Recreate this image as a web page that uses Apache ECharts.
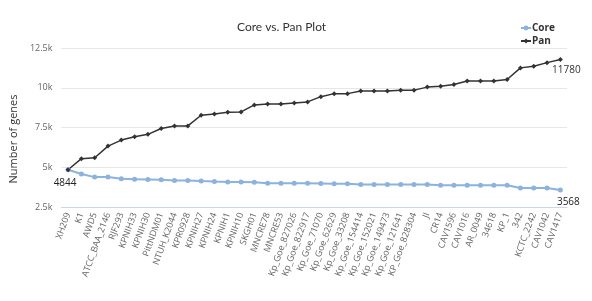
<!DOCTYPE html>
<html>
<head>
<meta charset="utf-8">
<script src="https://cdn.jsdelivr.net/npm/echarts@6/dist/echarts.min.js"></script>
<style>html,body{margin:0;padding:0;background:#fff;}#c{width:592px;height:301px;}</style>
</head>
<body>
<div id="c"></div>
<script>
const categories = ["XH209","K1","AWD5","ATCC_BAA_2146","RJF293","KPNIH33","KPNIH30","PittNDM01","NTUH_K2044","KPR0928","KPNIH27","KPNIH24","KPNIH1","KPNIH10","SKGH01","MNCRE78","MNCRE53","Kp_Goe_827026","Kp_Goe_822917","Kp_Goe_71070","Kp_Goe_62629","Kp_Goe_33208","Kp_Goe_154414","Kp_Goe_152021","Kp_Goe_149473","Kp_Goe_121641","KP_Goe_828304","JI","CR14","CAV1596","CAV1016","AR_0049","34618","KP_1","342","KCTC_2242","CAV1042","CAV1417"];
const coreValues = [4844,4580,4380,4380,4270,4250,4230,4210,4170,4170,4130,4100,4080,4080,4060,4000,4000,4000,4000,3980,3960,3960,3920,3920,3920,3920,3920,3920,3870,3870,3870,3870,3870,3870,3700,3690,3690,3568];
const panValues = [4844,5540,5600,6330,6710,6920,7070,7440,7600,7600,8270,8350,8460,8480,8920,8980,8980,9040,9110,9440,9630,9630,9790,9790,9790,9850,9850,10040,10100,10210,10420,10420,10420,10520,11250,11350,11580,11780];
const yTicks = [2500,5000,7500,10000,12500];

const FONT = 'Open Sans, sans-serif';
const chart = echarts.init(document.getElementById('c'), null, { renderer: 'canvas' });

const coreData = coreValues.map((v, i) => {
  if (i === 0) return { value: v, label: { show: true, position: 'bottom', offset: [-3, 1], fontSize: 10, color: '#222', fontFamily: FONT } };
  if (i === coreValues.length - 1) return { value: v, label: { show: true, position: 'bottom', offset: [8, 0], fontSize: 10, color: '#222', fontFamily: FONT } };
  return v;
});
const panData = panValues.map((v, i) => i === panValues.length - 1
  ? { value: v, label: { show: true, position: 'bottom', offset: [6, -2], fontSize: 10, color: '#333', fontFamily: FONT } }
  : v);

chart.setOption({
  animation: false,
  backgroundColor: '#fff',
  title: {
    text: 'Core vs. Pan Plot',
    left: 232, top: 16,
    textStyle: { fontSize: 12, fontWeight: 'normal', color: '#333', fontFamily: 'Lato, sans-serif' }
  },
  legend: {
    orient: 'vertical', left: 515, top: 18, itemGap: 3,
    itemWidth: 10, itemHeight: 6,
    textStyle: { fontSize: 10, fontWeight: 'bold', color: '#333', fontFamily: FONT, padding: [0,0,0,-4] },
    data: ['Core', 'Pan']
  },
  grid: { left: 50, right: 25, top: 48, bottom: 94, containLabel: false },
  xAxis: {
    type: 'category', data: categories, boundaryGap: true,
    axisLine: { lineStyle: { color: '#ccd6eb' } },
    axisTick: { length: 7, lineStyle: { color: '#ccd6eb' } },
    axisLabel: { rotate: 70, fontSize: 9, color: '#666', margin: 6, interval: 0, fontFamily: FONT }
  },
  yAxis: {
    type: 'value', min: yTicks[0], max: yTicks[yTicks.length-1], interval: 2500,
    name: 'Number of genes', nameLocation: 'middle', nameGap: 32,
    nameTextStyle: { fontSize: 11, color: '#333', fontFamily: FONT, padding: [0, 23, 0, 0] },
    axisLine: { show: false }, axisTick: { show: false },
    axisLabel: { fontSize: 9, color: '#666', margin: 9, formatter: v => (v/1000) + 'k', fontFamily: FONT },
    splitLine: { lineStyle: { color: '#e6e6e6' } }
  },
  series: [
    {
      name: 'Core', type: 'line', data: coreData,
      symbol: 'circle', symbolSize: 5, showAllSymbol: true,
      lineStyle: { color: '#8cb2de', width: 2 },
      itemStyle: { color: '#8cb2de' }
    },
    {
      name: 'Pan', type: 'line', data: panData,
      symbol: 'diamond', symbolSize: 5, showAllSymbol: true,
      lineStyle: { color: '#333', width: 1.5 },
      itemStyle: { color: '#333' }
    }
  ]
});
</script>
</body>
</html>
